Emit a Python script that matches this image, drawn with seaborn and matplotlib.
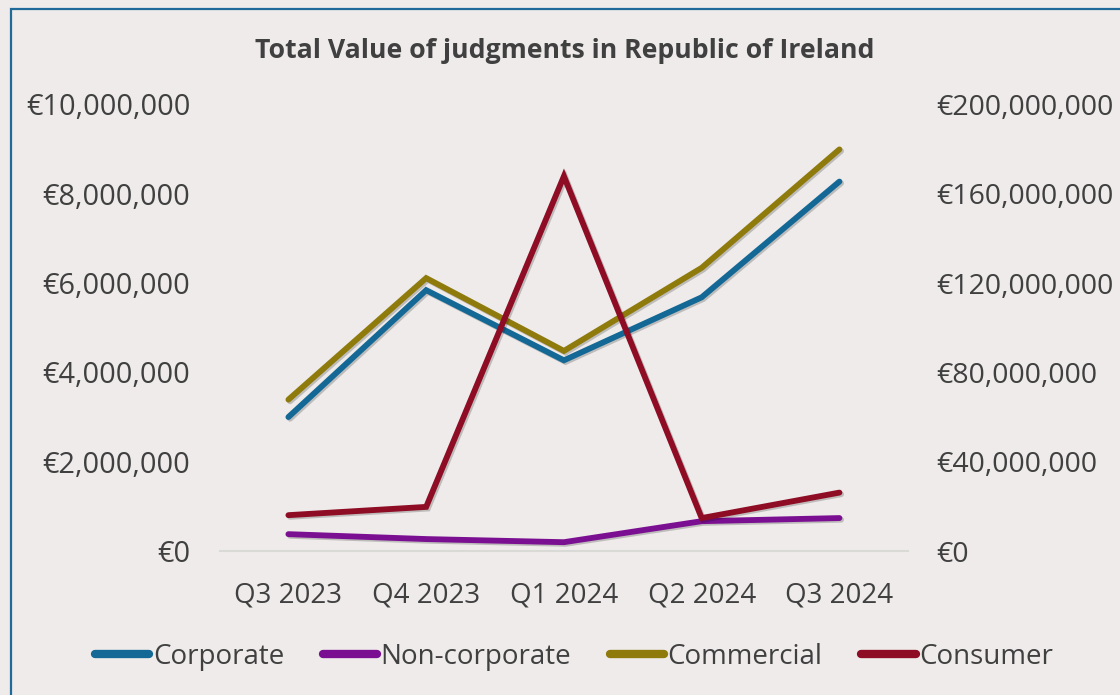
import matplotlib
matplotlib.use('Agg')
import matplotlib.pyplot as plt
import matplotlib.patheffects as pe
from matplotlib.patches import Rectangle
from matplotlib.ticker import FuncFormatter, MultipleLocator
import seaborn as sns

# Data
quarters = ['Q3 2023', 'Q4 2023', 'Q1 2024', 'Q2 2024', 'Q3 2024']
corporate = [3000000, 5840000, 4270000, 5680000, 8270000]
non_corporate = [380000, 270000, 200000, 670000, 740000]
commercial = [3390000, 6110000, 4480000, 6340000, 8990000]
consumer = [16100000, 19800000, 167800000, 14800000, 26200000]  # right axis

bg = '#EEEBEA'
text_col = '#404040'
colors = {'Corporate': '#136896', 'Non-corporate': '#7B0F91',
          'Commercial': '#8F7A0C', 'Consumer': '#8E0C24'}

sns.set_style('white')
plt.rcParams['font.family'] = ['Open Sans', 'DejaVu Sans']

fig = plt.figure(figsize=(11.2, 6.95), dpi=100, facecolor=bg)
ax = fig.add_axes([0.196, 0.207, 0.615, 0.643])
ax.set_facecolor(bg)
ax2 = ax.twinx()

shadow = [pe.SimpleLineShadow(offset=(1.2, -1.2), alpha=0.2, shadow_color='black'), pe.Normal()]

for name, vals in [('Corporate', corporate), ('Non-corporate', non_corporate), ('Commercial', commercial)]:
    sns.lineplot(x=quarters, y=vals, ax=ax, color=colors[name], lw=4.2, label=name,
                 solid_capstyle='round', solid_joinstyle='miter', path_effects=shadow)
sns.lineplot(x=quarters, y=consumer, ax=ax2, color=colors['Consumer'], lw=4.2, label='Consumer',
             solid_capstyle='round', solid_joinstyle='miter', path_effects=shadow)

ax.set_xlim(-0.5, 4.5)
ax.set_ylim(0, 10000000)
ax2.set_ylim(0, 200000000)
ax.yaxis.set_major_locator(MultipleLocator(2000000))
ax2.yaxis.set_major_locator(MultipleLocator(40000000))
euro = FuncFormatter(lambda v, p: '€{:,.0f}'.format(v))
ax.yaxis.set_major_formatter(euro)
ax2.yaxis.set_major_formatter(euro)

for a in (ax, ax2):
    for s in a.spines.values():
        s.set_visible(False)
    a.tick_params(axis='both', length=0, labelsize=20, labelcolor=text_col)
    a.set_xlabel('')
    a.set_ylabel('')
ax.spines['bottom'].set_visible(True)
ax.spines['bottom'].set_color('#D9D9D6')
ax.spines['bottom'].set_linewidth(1.5)
ax.tick_params(axis='y', pad=21, labelsize=20.8)
ax2.tick_params(axis='y', pad=20, labelsize=20.5)
ax.tick_params(axis='x', pad=22)

handles, labels = [], []
for a in (ax, ax2):
    h, l = a.get_legend_handles_labels()
    handles += h
    labels += l
    if a.get_legend() is not None:
        a.get_legend().remove()
leg = fig.legend(handles, labels, loc='center', bbox_to_anchor=(574 / 1120, (695 - 657) / 695),
                 ncol=4, frameon=False, fontsize=20, handlelength=1.95, handletextpad=0.12,
                 columnspacing=1.4, labelcolor=text_col)
for line in leg.get_lines():
    line.set_linewidth(6)
    line.set_solid_capstyle('round')
    line.set_path_effects([])

fig.text(0.504, 0.927, 'Total Value of judgments in Republic of Ireland', ha='center', va='center',
         fontsize=19.2, fontweight='bold', color=text_col)

fig.patches.append(Rectangle((10.5 / 1120, -0.1), 1.2, 1.1 - 8.5 / 695, transform=fig.transFigure,
                             fill=False, edgecolor='#1F6A98', linewidth=1.6))

plt.savefig('out.png', dpi=100, facecolor=bg)
